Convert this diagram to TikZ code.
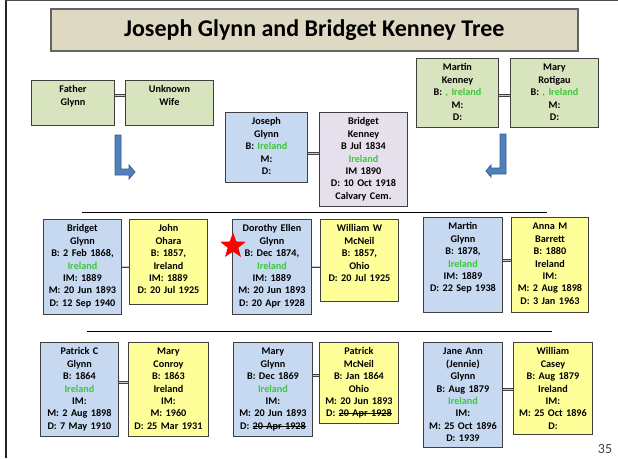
\documentclass[tikz,border=0pt]{standalone}
\usepackage{fontspec}
\setmainfont{Carlito}
\usetikzlibrary{shapes.geometric}
\definecolor{bluebox}{RGB}{198,217,241}
\definecolor{yellowbox}{RGB}{255,255,153}
\definecolor{greenbox}{RGB}{215,228,189}
\definecolor{lilacbox}{RGB}{230,224,236}
\definecolor{titlefill}{RGB}{221,217,195}
\definecolor{boxline}{RGB}{64,64,64}
\definecolor{irish}{RGB}{60,200,60}
\definecolor{arrowfill}{RGB}{79,129,189}
\definecolor{arrowline}{RGB}{56,93,138}
\newcommand{\eire}[1]{\textcolor{irish}{#1}}
\newsavebox{\strikebox}
\newcommand{\struck}[1]{\sbox{\strikebox}{#1}\rlap{\rule[2.8pt]{\wd\strikebox}{0.7pt}}\usebox{\strikebox}}
\tikzset{
	person/.style={draw=boxline, line width=0.9pt, anchor=north west, align=center,
		inner sep=2pt, text height=10.5pt, font=\bfseries\fontsize{10.2}{12.4}\selectfont},
	wed/.style={draw=boxline, double={rgb,255:red,200;green,200;blue,200}, double distance=1pt, line width=0.8pt},
	bentarrow/.style={fill=arrowfill, draw=arrowline, line width=0.8pt, line join=miter}
}
\begin{document}
\begin{tikzpicture}[x=1pt, y=-1pt]
	\useasboundingbox (0,0) rectangle (618,458);
	% slide edges
	\draw [line width=2pt, black!85] (6,0) -- (6,458);
	\draw [line width=1.5pt, black!70] (6,0.5) -- (618,0.5);
	% title
	\node [fill=titlefill, draw={rgb,255:red,100;green,100;blue,100}, line width=1.5pt, anchor=north west,
		minimum width=527pt, minimum height=42pt, font=\bfseries\fontsize{24}{24}\selectfont] (title) at (50,8)
		{Joseph Glynn and Bridget Kenney Tree};
	% grandparents
	\node [person, fill=greenbox, text width=79pt, text depth=30.5pt] (fglynn) at (31,80) {Father\\Glynn};
	\node [person, fill=greenbox, text width=84pt, text depth=30.5pt] (uwife) at (125,80) {Unknown\\Wife};
	\node [person, fill=greenbox, text width=78pt, text depth=54.5pt] (mkenney) at (416,58)
		{Martin\\Kenney\\B: \eire{, Ireland}\\M:\\D:};
	\node [person, fill=greenbox, text width=84pt, text depth=54.5pt] (mrotigau) at (510,58)
		{Mary\\Rotigau\\B: \eire{, Ireland}\\M:\\D:};
	\draw [wed] ([yshift=7.5pt]fglynn.east) -- ([yshift=7.5pt]uwife.west);
	\draw [wed] ([yshift=-2.5pt]mkenney.east) -- ([yshift=-2.5pt]mrotigau.west);
	% parents
	\node [person, fill=bluebox, text width=78pt, text depth=55.5pt] (jglynn) at (225,112)
		{Joseph\\Glynn\\B: \eire{Ireland}\\M:\\D:};
	\node [person, fill=lilacbox, text width=84pt, text depth=79.5pt] (bkenney) at (319,112)
		{Bridget\\Kenney\\B Jul 1834\\\eire{Ireland}\\IM 1890\\D: 10 Oct 1918\\Calvary Cem.};
	\draw [wed] ([yshift=-6pt]jglynn.east) -- ([yshift=6pt]bkenney.west);
	% arrows down to the children
	\draw [bentarrow] (115,135) -- (121,135) -- (121,169) -- (129,169) -- (129,165) -- (135,172)
		-- (129,179) -- (129,175) -- (115,175) -- cycle;
	\draw [bentarrow] (506,134) -- (500,134) -- (500,168) -- (491,168) -- (491,165) -- (486,171)
		-- (491,177) -- (491,174) -- (506,174) -- cycle;
	% children, first row
	\draw [line width=1pt] (82,212) -- (547,212);
	\node [person, fill=bluebox, text width=74pt, text depth=80.5pt] (bglynn) at (43,219)
		{Bridget\\Glynn\\B: 2 Feb 1868,\\\eire{Ireland}\\IM: 1889\\M: 20 Jun 1893\\D: 12 Sep 1940};
	\node [person, fill=yellowbox, text width=74pt, text depth=70.5pt] (johara) at (129,219)
		{John\\Ohara\\B: 1857,\\Ireland\\IM: 1889\\D: 20 Jul 1925};
	\node [person, fill=bluebox, text width=75pt, text depth=80.5pt] (dglynn) at (232,219)
		{Dorothy Ellen\\Glynn\\B: Dec 1874,\\\eire{Ireland}\\IM: 1889\\M: 20 Jun 1893\\D: 20 Apr 1928};
	\node [person, fill=yellowbox, text width=74pt, text depth=67.5pt] (wmcneil) at (320,219)
		{William W\\McNeil\\B: 1857,\\Ohio\\D: 20 Jul 1925};
	\node [person, fill=bluebox, text width=75pt, text depth=80.5pt] (martglynn) at (423,217)
		{Martin\\Glynn\\B: 1878,\\\eire{Ireland}\\IM: 1889\\D: 22 Sep 1938};
	\node [person, fill=yellowbox, text width=73pt, text depth=80.5pt] (abarrett) at (511,217)
		{Anna M\\Barrett\\B: 1880\\Ireland\\IM:\\M: 2 Aug 1898\\D: 3 Jan 1963};
	\node [star, star points=5, star point ratio=2.4, fill=red, minimum size=27pt, inner sep=0pt] (redstar) at (233,246) {};
	\draw [wed] (bglynn.east) -- (bglynn.east -| johara.west);
	\draw [wed] (dglynn.east) -- (dglynn.east -| wmcneil.west);
	\draw [wed] ([yshift=4.5pt]martglynn.east) -- ([yshift=4.5pt]abarrett.west);
	% children, second row
	\draw [line width=1pt] (87,331) -- (552,331);
	\node [person, fill=bluebox, text width=74pt, text depth=79.5pt] (pglynn) at (40,342)
		{Patrick C\\Glynn\\B: 1864\\\eire{Ireland}\\IM:\\M: 2 Aug 1898\\D: 7 May 1910};
	\node [person, fill=yellowbox, text width=76pt, text depth=79.5pt] (mconroy) at (128,342)
		{Mary\\Conroy\\B: 1863\\Ireland\\IM:\\M: 1960\\D: 25 Mar 1931};
	\node [person, fill=bluebox, text width=75pt, text depth=79.5pt] (maryglynn) at (233,342)
		{Mary\\Glynn\\B: Dec 1869\\\eire{Ireland}\\IM:\\M: 20 Jun 1893\\D: \struck{20 Apr 1928}};
	\node [person, fill=yellowbox, text width=75pt, text depth=66.5pt] (pmcneil) at (319,342)
		{Patrick\\McNeil\\B: Jan 1864\\Ohio\\M: 20 Jun 1893\\D: \struck{20 Apr 1928}};
	\node [person, fill=bluebox, text width=75pt, text depth=90.5pt] (jennie) at (423,342)
		{Jane Ann\\(Jennie)\\Glynn\\B: Aug 1879\\\eire{Ireland}\\IM:\\M: 25 Oct 1896\\D: 1939};
	\node [person, fill=yellowbox, text width=75pt, text depth=77.5pt] (wcasey) at (513,342)
		{William\\Casey\\B: Aug 1879\\Ireland\\IM:\\M: 25 Oct 1896\\D:};
	\draw [wed] ([yshift=7pt]pglynn.east) -- ([yshift=7pt]mconroy.west);
	\draw [wed] ([yshift=14pt]maryglynn.east) -- ([yshift=7.5pt]pmcneil.west);
	\draw [wed] ([yshift=5.5pt]jennie.east) -- ([yshift=-1pt]wcasey.west);
	% page number
	\node [font=\fontsize{14}{14}\selectfont, text=black!75] (pagenum) at (605,449) {35};
\end{tikzpicture}
\end{document}
